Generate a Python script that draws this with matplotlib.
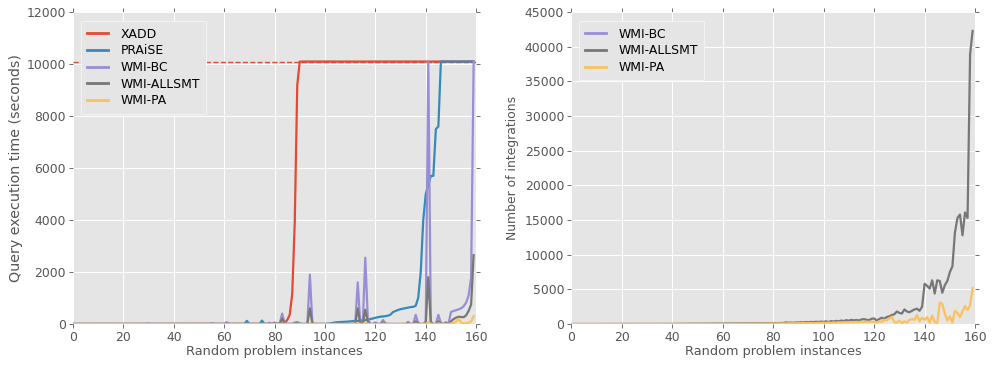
import matplotlib
matplotlib.use("Agg")
import matplotlib.pyplot as plt

# -------------------------
# Data
# -------------------------
instances = list(range(160))
timeout = 10100

# query execution time (seconds)
xadd = [
    1, 1, 1, 1, 1, 1, 1, 1, 1, 1,
    1, 1, 1, 1, 1, 1, 1, 1, 1, 1,
    1, 1, 1, 1, 1, 1, 1, 1, 1, 1,
    1, 1, 1, 1, 1, 1, 1, 1, 1, 1,
    1, 1, 1, 1, 1, 1, 1, 1, 1, 1,
    2, 2, 2, 2, 2, 2, 2, 2, 2, 2,
    3, 3, 3, 3, 3, 3, 3, 3, 3, 3,
    4, 4, 4, 4, 4, 5, 5, 5, 6, 6,
    8, 10, 15, 20, 40, 150, 350, 1150, 3900, 9200,
    10100, 10100, 10100, 10100, 10100, 10100, 10100, 10100, 10100, 10100,
    10100, 10100, 10100, 10100, 10100, 10100, 10100, 10100, 10100, 10100,
    10100, 10100, 10100, 10100, 10100, 10100, 10100, 10100, 10100, 10100,
    10100, 10100, 10100, 10100, 10100, 10100, 10100, 10100, 10100, 10100,
    10100, 10100, 10100, 10100, 10100, 10100, 10100, 10100, 10100, 10100,
    10100, 10100, 10100, 10100, 10100, 10100, 10100, 10100, 10100, 10100,
    10100, 10100, 10100, 10100, 10100, 10100, 10100, 10100, 10100, 10100,
]
praise = [
    0, 0, 0, 0, 0, 0, 0, 0, 0, 0,
    0, 0, 0, 0, 0, 0, 0, 0, 0, 0,
    0, 0, 0, 0, 0, 0, 0, 0, 0, 0,
    0, 0, 0, 0, 0, 0, 0, 0, 0, 0,
    0, 0, 0, 0, 0, 0, 0, 0, 0, 0,
    0, 0, 0, 0, 0, 5, 0, 0, 0, 0,
    0, 10, 0, 0, 0, 0, 0, 0, 0, 120,
    0, 0, 0, 0, 0, 130, 0, 0, 0, 0,
    0, 0, 0, 0, 40, 0, 0, 0, 0, 70,
    20, 0, 0, 0, 0, 0, 0, 0, 0, 0,
    0, 10, 20, 40, 60, 70, 75, 80, 85, 90,
    100, 110, 115, 120, 130, 140, 150, 170, 190, 210,
    240, 260, 280, 290, 300, 320, 360, 460, 500, 540,
    570, 590, 610, 630, 650, 660, 700, 1000, 2000, 4000,
    5000, 5350, 5700, 5700, 7500, 7600, 10100, 10100, 10100, 10100,
    10100, 10100, 10100, 10100, 10100, 10100, 10100, 10100, 10100, 10100,
]
wmi_bc = [
    0, 0, 0, 0, 0, 0, 5, 0, 0, 0,
    0, 0, 0, 0, 0, 0, 0, 0, 0, 0,
    0, 0, 0, 0, 0, 0, 0, 0, 0, 0,
    15, 0, 0, 0, 0, 0, 0, 0, 0, 0,
    0, 0, 0, 10, 0, 0, 0, 0, 0, 0,
    0, 0, 0, 0, 0, 30, 0, 0, 0, 0,
    0, 70, 0, 0, 0, 0, 0, 0, 0, 0,
    0, 0, 0, 0, 0, 0, 0, 0, 50, 0,
    60, 0, 0, 400, 30, 0, 0, 0, 60, 50,
    0, 0, 0, 0, 1900, 40, 0, 0, 0, 0,
    0, 0, 0, 0, 0, 0, 0, 0, 0, 0,
    0, 0, 0, 1600, 50, 0, 2550, 200, 0, 0,
    60, 0, 0, 150, 20, 0, 0, 0, 0, 0,
    0, 0, 0, 80, 0, 0, 350, 40, 0, 0,
    100, 10100, 100, 0, 0, 350, 40, 0, 70, 0,
    460, 500, 530, 560, 600, 680, 820, 1100, 1800, 10100,
]
wmi_allsmt = [
    0, 0, 0, 0, 0, 0, 0, 0, 0, 0,
    0, 0, 0, 0, 0, 0, 0, 0, 0, 0,
    0, 0, 0, 0, 0, 0, 0, 0, 0, 0,
    5, 0, 0, 0, 0, 0, 0, 0, 0, 0,
    0, 0, 0, 0, 0, 0, 0, 0, 0, 0,
    0, 0, 0, 0, 0, 10, 0, 0, 0, 0,
    0, 20, 0, 0, 0, 0, 0, 0, 0, 0,
    0, 0, 0, 0, 0, 0, 0, 0, 10, 0,
    20, 0, 0, 200, 10, 0, 0, 0, 20, 20,
    0, 0, 0, 0, 600, 10, 0, 0, 0, 0,
    0, 0, 0, 0, 0, 0, 0, 0, 0, 0,
    0, 0, 0, 600, 20, 0, 550, 80, 0, 0,
    20, 0, 0, 60, 10, 0, 0, 0, 0, 0,
    0, 0, 0, 30, 0, 0, 100, 20, 0, 0,
    40, 1800, 40, 0, 0, 100, 20, 0, 30, 0,
    100, 190, 240, 280, 270, 260, 330, 500, 750, 2650,
]
wmi_pa = [
    0, 0, 0, 0, 0, 0, 0, 0, 0, 0,
    0, 0, 0, 0, 0, 0, 0, 0, 0, 0,
    0, 0, 0, 0, 0, 0, 0, 0, 0, 0,
    0, 0, 0, 0, 0, 0, 0, 0, 0, 0,
    0, 0, 0, 0, 0, 0, 0, 0, 0, 0,
    0, 0, 0, 0, 0, 0, 0, 0, 0, 0,
    0, 0, 0, 0, 0, 0, 0, 0, 0, 0,
    0, 0, 0, 0, 0, 0, 0, 0, 0, 0,
    0, 0, 0, 10, 0, 0, 0, 0, 0, 0,
    0, 0, 0, 0, 20, 0, 0, 0, 0, 0,
    0, 0, 0, 0, 0, 0, 0, 0, 0, 0,
    0, 0, 0, 20, 0, 0, 40, 10, 0, 0,
    0, 0, 0, 10, 0, 0, 0, 0, 0, 0,
    0, 0, 0, 0, 0, 0, 10, 0, 0, 0,
    10, 60, 10, 0, 0, 20, 0, 0, 0, 0,
    20, 40, 90, 200, 60, 20, 30, 50, 100, 300,
]

# number of integrations (WMI-BC reports none)
wmi_bc_integrations = []
wmi_allsmt_integrations = [
    1, 1, 2, 1, 2, 2, 3, 2, 3, 3,
    3, 4, 3, 4, 5, 4, 5, 6, 5, 6,
    6, 7, 7, 8, 7, 9, 8, 10, 9, 11,
    12, 11, 13, 14, 13, 15, 16, 18, 17, 20,
    22, 20, 24, 26, 25, 28, 30, 32, 30, 35,
    38, 36, 40, 42, 45, 44, 48, 50, 52, 55,
    58, 56, 62, 65, 60, 70, 72, 68, 75, 80,
    85, 82, 90, 88, 95, 100, 98, 110, 105, 120,
    110, 130, 120, 150, 140, 230, 180, 200, 170, 220,
    200, 250, 210, 280, 230, 300, 260, 320, 280, 350,
    300, 380, 280, 420, 350, 450, 380, 500, 420, 550,
    480, 600, 520, 580, 500, 650, 700, 600, 550, 750,
    800, 500, 700, 900, 750, 1000, 1100, 1300, 1400, 1800,
    1600, 1500, 2100, 1800, 1700, 1900, 2100, 2200, 1900, 2500,
    5800, 5500, 5100, 6300, 4400, 6300, 6200, 4500, 5600, 6200,
    7500, 8300, 13200, 15300, 15800, 12800, 16100, 15300, 38900, 42300,
]
wmi_pa_integrations = [
    0, 0, 0, 0, 0, 0, 0, 0, 0, 0,
    0, 0, 0, 0, 0, 0, 0, 0, 0, 0,
    0, 0, 0, 0, 0, 0, 0, 0, 0, 0,
    0, 0, 0, 0, 0, 0, 0, 0, 0, 0,
    1, 1, 2, 2, 3, 3, 4, 4, 5, 5,
    6, 6, 7, 8, 8, 9, 10, 10, 11, 12,
    12, 13, 14, 15, 15, 16, 18, 20, 22, 25,
    28, 30, 32, 35, 38, 40, 45, 50, 55, 60,
    60, 70, 65, 80, 75, 90, 85, 100, 90, 110,
    100, 120, 110, 130, 120, 140, 130, 150, 160, 170,
    180, 150, 200, 170, 220, 190, 240, 210, 260, 230,
    250, 280, 260, 300, 270, 320, 290, 340, 310, 330,
    300, 200, 400, 300, 600, 500, 800, 1050, 300, 200,
    500, 100, 400, 200, 600, 700, 600, 1300, 400, 900,
    600, 1000, 200, 1200, 300, 100, 3100, 2900, 1500, 500,
    1100, 200, 1900, 1600, 1000, 1800, 2600, 2000, 2700, 5200,
]

# -------------------------
# Styling (old ggplot look)
# -------------------------
FS = 8.9
plt.rcParams.update({
    'font.family': 'DejaVu Sans',
    'font.size': FS,
    'axes.facecolor': '#E5E5E5',
    'axes.edgecolor': 'white',
    'axes.labelcolor': '#555555',
    'xtick.color': '#555555',
    'ytick.color': '#555555',
    'xtick.labelcolor': '#555555',
    'ytick.labelcolor': '#555555',
    'xtick.direction': 'out',
    'ytick.direction': 'out',
    'xtick.major.size': 3,
    'ytick.major.size': 3,
    'xtick.major.width': 0.6,
    'ytick.major.width': 0.6,
    'xtick.top': True,
    'ytick.right': True,
    'grid.color': 'white',
    'grid.linestyle': '-',
    'grid.linewidth': 0.7,
})

RED, BLUE, PURPLE, GRAY, YELLOW = '#E24A33', '#348ABD', '#988ED5', '#777777', '#FBC15E'
LW = 1.6

fig = plt.figure(figsize=(9.92, 3.69), dpi=100)
ax1 = fig.add_axes([0.0736, 0.122, 0.4064, 0.845])
ax2 = fig.add_axes([0.5756, 0.122, 0.4074, 0.845])


def style_axes(ax):
    ax.set_axisbelow(True)
    ax.grid(True)
    for s in ax.spines.values():
        s.set_visible(False)
    ax.set_xlim(0, 160)
    ax.set_xticks(range(0, 161, 20))
    ax.set_xlabel("Random problem instances", fontsize=9.3, labelpad=1)
    ax.tick_params(labelsize=FS, pad=2)


def add_legend(ax):
    leg = ax.legend(loc='upper left', fontsize=FS, fancybox=False,
                    framealpha=1, handlelength=1.7, handletextpad=1.0,
                    labelspacing=0.3, borderpad=0.5,
                    bbox_to_anchor=(0.005, 0.99))
    leg.get_frame().set_facecolor('#E5E5E5')
    leg.get_frame().set_edgecolor('#F2F2F2')
    leg.get_frame().set_linewidth(0.8)
    for line in leg.get_lines():
        line.set_linewidth(2.0)


# left: execution time
ax1.axhline(timeout, color=RED, ls='--', lw=1.0, zorder=1.5)
ax1.plot(instances, xadd, color=RED, lw=LW, label='XADD')
ax1.plot(instances, praise, color=BLUE, lw=LW, label='PRAiSE')
ax1.plot(instances, wmi_bc, color=PURPLE, lw=LW, label='WMI-BC')
ax1.plot(instances, wmi_allsmt, color=GRAY, lw=LW, label='WMI-ALLSMT')
ax1.plot(instances, wmi_pa, color=YELLOW, lw=LW, label='WMI-PA')
style_axes(ax1)
ax1.set_ylim(0, 12000)
ax1.set_yticks(range(0, 12001, 2000))
ax1.set_ylabel("Query execution time (seconds)", fontsize=10.3, labelpad=3)
add_legend(ax1)

# right: number of integrations
ax2.plot(instances[:len(wmi_bc_integrations)], wmi_bc_integrations,
         color=PURPLE, lw=LW, label='WMI-BC')
ax2.plot(instances, wmi_allsmt_integrations, color=GRAY, lw=LW, label='WMI-ALLSMT')
ax2.plot(instances, wmi_pa_integrations, color=YELLOW, lw=LW, label='WMI-PA')
style_axes(ax2)
ax2.set_ylim(0, 45000)
ax2.set_yticks(range(0, 45001, 5000))
ax2.set_ylabel("Number of integrations", fontsize=FS, labelpad=4)
add_legend(ax2)

fig.savefig("out.png", dpi=100)
